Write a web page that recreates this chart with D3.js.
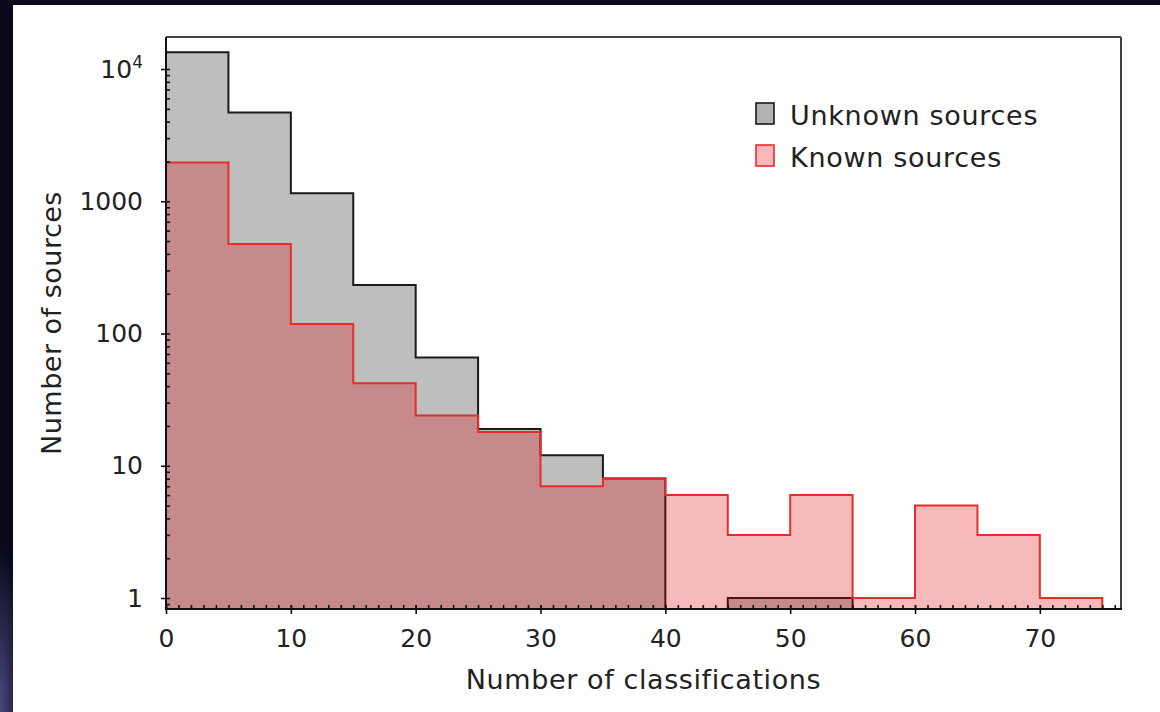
<!DOCTYPE html>
<html>
<head>
<meta charset="utf-8">
<script src="https://cdn.jsdelivr.net/npm/d3@7"></script>
<style>
  html, body { margin: 0; padding: 0; background: #080817; }
  svg { display: block; }
  text { font-family: "DejaVu Sans", sans-serif; fill: #222; }
</style>
</head>
<body>
<svg id="chart" width="1160" height="712"></svg>
<script>
// Histogram bins: 5-classification wide, 0 to 75
const binEdges = [0, 5, 10, 15, 20, 25, 30, 35, 40, 45, 50, 55, 60, 65, 70, 75];
const unknownCounts = [13400, 4700, 1150, 233, 66, 19, 12, 8, 0, 1, 1, 0, 0, 0, 0];
const knownCounts   = [1960, 475, 118, 42, 24, 18, 7, 8, 6, 3, 6, 1, 5, 3, 1];

const seriesNames = ["Unknown sources", "Known sources"];
const xTickValues = [0, 10, 20, 30, 40, 50, 60, 70];
const yTickValues = [1, 10, 100, 1000, 10000];
const yTickLabels = ["1", "10", "100", "1000", "10^4"];

const svg = d3.select("#chart");
const W = 1160, H = 712;

// dark backdrop with a faint glow bottom-left
const defs = svg.append("defs");
const glow = defs.append("radialGradient").attr("id", "glow")
  .attr("cx", "0%").attr("cy", "100%").attr("r", "40%");
glow.append("stop").attr("offset", "0%").attr("stop-color", "#4a4a82");
glow.append("stop").attr("offset", "100%").attr("stop-color", "#0a0a1c");
svg.append("rect").attr("width", W).attr("height", H).attr("fill", "#0a0a1c");
svg.append("rect").attr("x", 0).attr("y", 300).attr("width", 60).attr("height", 412).attr("fill", "url(#glow)");

// white figure panel
svg.append("rect").attr("x", 13).attr("y", 5).attr("width", W - 13).attr("height", H - 5).attr("fill", "#ffffff");

// plot area
const pLeft = 166, pRight = 1121, pTop = 37, pBottom = 609;
const x = d3.scaleLinear().domain([0, 76.5]).range([pLeft, pRight]);
const y = d3.scaleLog().domain([0.826, 17460]).range([pBottom, pTop]);

defs.append("clipPath").attr("id", "plotclip")
  .append("rect").attr("x", pLeft).attr("y", pTop).attr("width", pRight - pLeft).attr("height", pBottom - pTop);

// step outline of a histogram, closed along the axis floor
function stepPolygon(counts) {
  const floor = pBottom + 3;
  const yv = v => v > 0 ? y(v) : floor;
  const pts = [[x(binEdges[0]), floor]];
  counts.forEach((c, i) => {
    pts.push([x(binEdges[i]), yv(c)]);
    pts.push([x(binEdges[i + 1]), yv(c)]);
  });
  pts.push([x(binEdges[binEdges.length - 1]), floor]);
  return d3.line()(pts) + "Z";
}

const plot = svg.append("g").attr("clip-path", "url(#plotclip)");
plot.append("path").attr("d", stepPolygon(unknownCounts))
  .attr("fill", "#000000").attr("fill-opacity", 0.255)
  .attr("stroke", "#1a1a1a").attr("stroke-width", 2).attr("stroke-linejoin", "miter");
plot.append("path").attr("d", stepPolygon(knownCounts))
  .attr("fill", "rgb(226,0,0)").attr("fill-opacity", 0.27)
  .attr("stroke", "#ec2a2a").attr("stroke-width", 2).attr("stroke-linejoin", "miter");

// x axis: major ticks straddle the spine, minor ticks point inward
const xMinor = svg.append("g").attr("transform", `translate(0,${pBottom})`)
  .call(d3.axisBottom(x).tickValues(d3.range(0, 77, 1)).tickSize(-4).tickFormat(""));
const xMajor = svg.append("g").attr("transform", `translate(0,${pBottom})`)
  .call(d3.axisBottom(x).tickValues(xTickValues).tickSize(5).tickPadding(15).tickFormat(d3.format("d")));
xMajor.selectAll(".tick line").attr("y1", -4);
[xMinor, xMajor].forEach(g => {
  g.select(".domain").remove();
  g.selectAll(".tick line").attr("stroke", "#111").attr("stroke-width", 1.6);
});
xMajor.selectAll(".tick text").attr("font-size", 25).attr("fill", "#222")
  .attr("font-family", "DejaVu Sans, sans-serif");

// y axis (log): major ticks with labels, minor ticks at 2..9 per decade
const minorY = [];
[0.1, 1, 10, 100, 1000, 10000].forEach(d => {
  for (let k = 2; k <= 9; k++) {
    const v = d * k;
    if (v >= y.domain()[0] && v <= y.domain()[1]) minorY.push(v);
  }
});
const yMinor = svg.append("g").attr("transform", `translate(${pLeft},0)`)
  .call(d3.axisLeft(y).tickValues(minorY).tickSize(-4).tickFormat(""));
const yMajor = svg.append("g").attr("transform", `translate(${pLeft},0)`)
  .call(d3.axisLeft(y).tickValues(yTickValues).tickSize(5).tickPadding(18)
    .tickFormat((d, i) => yTickLabels[i]));
yMajor.selectAll(".tick line").attr("x1", 4);
[yMinor, yMajor].forEach(g => {
  g.select(".domain").remove();
  g.selectAll(".tick line").attr("stroke", "#111").attr("stroke-width", 1.6);
});
yMajor.selectAll(".tick text").attr("font-size", 25).attr("fill", "#222")
  .attr("font-family", "DejaVu Sans, sans-serif")
  .each(function (d, i) {
    const lab = yTickLabels[i];
    if (lab.includes("^")) {
      const [base, exp] = lab.split("^");
      const t = d3.select(this).text(null);
      t.append("tspan").text(base);
      t.append("tspan").attr("font-size", 17).attr("dy", "-0.55em").text(exp);
    }
  });

// spines
svg.append("line").attr("x1", pLeft).attr("x2", pRight).attr("y1", pTop).attr("y2", pTop)
  .attr("stroke", "#444").attr("stroke-width", 2);
svg.append("line").attr("x1", pRight).attr("x2", pRight).attr("y1", pTop).attr("y2", pBottom)
  .attr("stroke", "#444").attr("stroke-width", 2);
svg.append("line").attr("x1", pLeft).attr("x2", pLeft).attr("y1", pTop).attr("y2", pBottom + 1)
  .attr("stroke", "#111").attr("stroke-width", 2);
svg.append("line").attr("x1", pLeft - 1).attr("x2", pRight + 1).attr("y1", pBottom).attr("y2", pBottom)
  .attr("stroke", "#111").attr("stroke-width", 2);

// axis titles
svg.append("text").attr("x", (pLeft + pRight) / 2).attr("y", 689)
  .attr("text-anchor", "middle").attr("font-size", 27).attr("letter-spacing", 0.6)
  .text("Number of classifications");
svg.append("text").attr("transform", `translate(61,${(pTop + pBottom) / 2}) rotate(-90)`)
  .attr("text-anchor", "middle").attr("font-size", 27).attr("letter-spacing", 0.5)
  .text("Number of sources");

// legend
const legendStyles = [
  { fill: "#000000", fillOpacity: 0.3, stroke: "#1a1a1a" },
  { fill: "rgb(226,0,0)", fillOpacity: 0.27, stroke: "#ec2a2a" }
];
const legend = svg.append("g");
seriesNames.forEach((name, i) => {
  const yb = 125 + i * 42;
  legend.append("rect").attr("x", 756).attr("y", yb - 22).attr("width", 18).attr("height", 21)
    .attr("fill", legendStyles[i].fill).attr("fill-opacity", legendStyles[i].fillOpacity)
    .attr("stroke", legendStyles[i].stroke).attr("stroke-width", 1.6);
  legend.append("text").attr("x", 790).attr("y", yb)
    .attr("font-size", 27).attr("letter-spacing", 0.7).text(name);
});
</script>
</body>
</html>
